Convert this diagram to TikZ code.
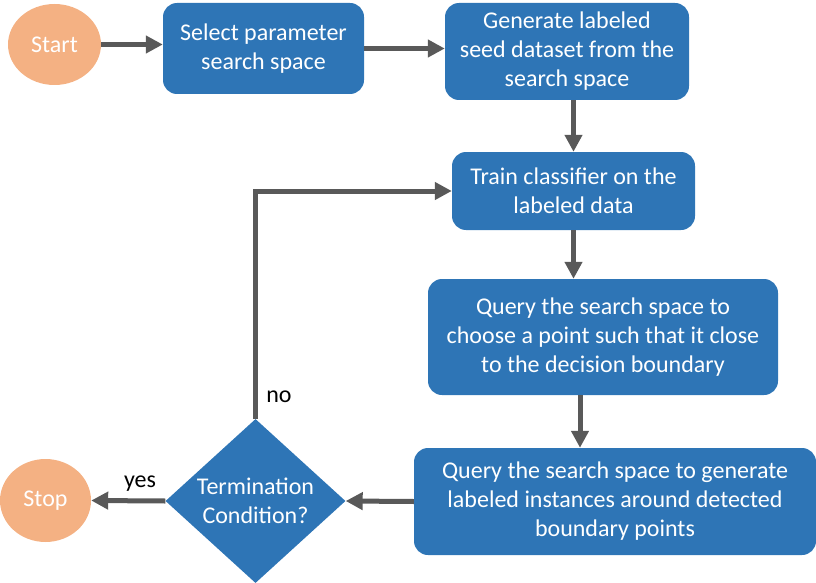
\documentclass[tikz,border=0pt]{standalone}
\usepackage{fontspec}
\setmainfont{Carlito}
\usetikzlibrary{shapes.geometric,arrows.meta}
\definecolor{blue1}{HTML}{2E75B6}
\definecolor{orange1}{HTML}{F4B183}
\definecolor{gray1}{HTML}{595959}
\tikzset{
    EL1/.style ={ellipse, minimum width = 93pt, minimum height = 81pt, fill=orange1, text=white},
    RB1/.style ={rectangle, rounded corners=14pt, fill=blue1, text=white, align=center, inner sep=0pt},
    DI1/.style ={diamond, aspect=1.1, minimum width = 180pt, minimum height = 164pt, fill=blue1, text=white, align=center, inner sep=0pt},
    AR1/.style ={draw=gray1, line width=5pt, -{Triangle[length=17pt,width=17pt]}},
    LA1/.style ={text=black}}

\begin{document}
\begin{tikzpicture}
        [x=1pt, y=-1pt, every node/.append style={font=\fontsize{24}{29}\selectfont}]
        \useasboundingbox (0,0) rectangle (816,583);
        \node[EL1] (start) at (54.5,44.5) {Start};
        \node[RB1, minimum width=201pt, minimum height=91pt] (select) at (263.5,48.5) {Select parameter\\search space};
        \node[RB1, minimum width=244pt, minimum height=97pt] (gen) at (567,51.5) {Generate labeled\\seed dataset from the\\search space};
        \node[RB1, minimum width=243pt, minimum height=78pt] (train) at (573.5,191) {Train classifier on the\\labeled data};
        \node[RB1, minimum width=350pt, minimum height=116pt] (query1) at (603,337) {Query the search space to\\choose a point such that it close\\to the decision boundary};
        \node[RB1, minimum width=402pt, minimum height=107pt] (query2) at (615,501.5) {Query the search space to generate\\labeled instances around detected\\boundary points};
        \node[DI1] (cond) at (255.5,501) {Termination\\Condition?};
        \node[EL1, minimum width=91pt, minimum height=83pt] (stop) at (45.5,500.5) {Stop};
        \node[LA1] (no) at (279,397) {no};
        \node[LA1] (yes) at (140,484) {yes};
        % connectors
        \draw[AR1] (start.east) -- (start.east -| select.west);
        \draw[AR1] (select.east) -- (select.east -| gen.west);
        \draw[AR1] (gen.south -| train.north) -- (train.north);
        \draw[AR1] (train.south) -- (train.south |- query1.north);
        \draw[AR1] ([xshift=-23pt]query1.south) -- ([xshift=-23pt]query1.south |- query2.north);
        \draw[AR1] (query2.west) -- (cond.east);
        \draw[AR1] (cond.west) -- (stop.east);
        \draw[AR1] (cond.north) |- (train.west);
\end{tikzpicture}
\end{document}
